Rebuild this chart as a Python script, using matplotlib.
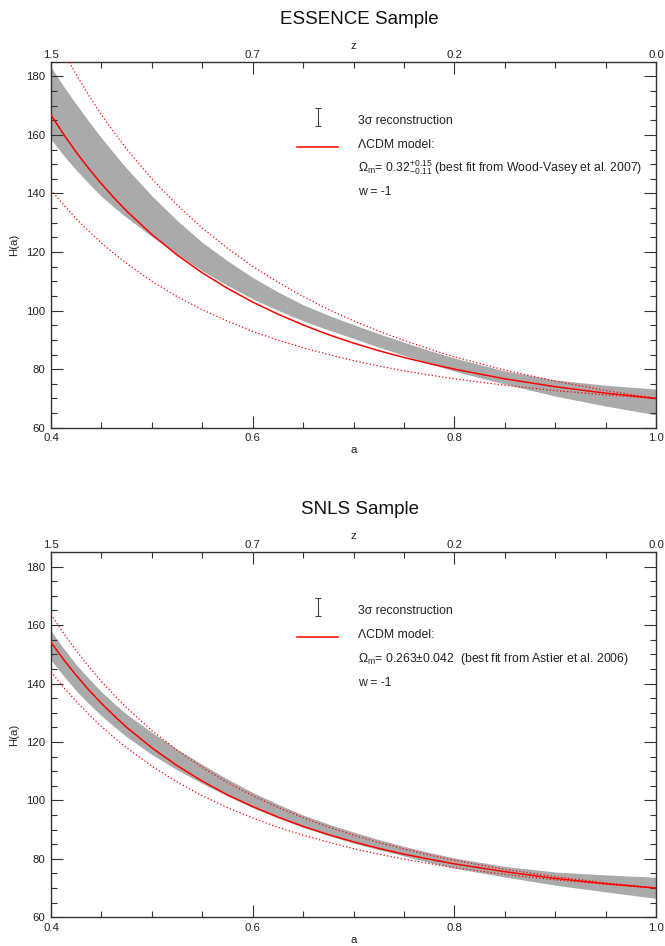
import matplotlib
matplotlib.use("Agg")
import matplotlib.pyplot as plt
from matplotlib.ticker import MultipleLocator

plt.rcParams["font.family"] = ["Liberation Sans", "DejaVu Sans"]
plt.rcParams["mathtext.fontset"] = "custom"
plt.rcParams["mathtext.rm"] = "Liberation Sans"
plt.rcParams["mathtext.it"] = "Liberation Sans:italic"
plt.rcParams["mathtext.bf"] = "Liberation Sans:bold"

# skala a (dolna os) i odpowiadajace z (gorna os)
a_vals = [0.40, 0.4125, 0.425, 0.4375, 0.45, 0.4625, 0.475, 0.50, 0.525,
          0.55, 0.575, 0.60, 0.625, 0.65, 0.675, 0.70, 0.725, 0.75, 0.775,
          0.80, 0.85, 0.90, 0.95, 1.00]
a_major = [0.4, 0.6, 0.8, 1.0]
a_labels = ["0.4", "0.6", "0.8", "1.0"]
z_labels = ["1.5", "0.7", "0.2", "0.0"]

# ESSENCE: pasmo 3 sigma + model LCDM (Om = 0.32 +0.15 -0.11)
ess_hi = [183.2, 176.6, 170.5, 164.6, 159.0, 153.7, 148.6, 139.2, 130.8,
          123.3, 117.0, 111.3, 106.4, 102.0, 98.4, 95.2, 92.1, 89.2, 86.4,
          83.8, 79.4, 76.3, 74.5, 73.2]
ess_lo = [158.5, 153.0, 148.0, 143.4, 139.0, 135.3, 131.8, 125.3, 119.3,
          113.6, 108.6, 104.0, 100.1, 96.5, 93.4, 90.5, 87.5, 84.7, 81.9,
          79.3, 74.9, 70.8, 67.4, 64.4]
ess_mod = [166.8, 160.2, 154.1, 148.5, 143.3, 138.5, 134.0, 126.0, 119.0,
           112.9, 107.6, 102.9, 98.8, 95.1, 91.8, 88.9, 86.3, 84.0, 81.9,
           80.0, 76.7, 74.0, 71.8, 70.0]
ess_mod_hi = [196.4, 188.2, 180.6, 173.5, 166.9, 160.9, 155.2, 145.0, 136.1,
              128.2, 121.3, 115.1, 109.7, 104.8, 100.4, 96.5, 93.0, 89.8, 86.9,
              84.2, 79.7, 75.9, 72.7, 70.0]
ess_mod_lo = [141.2, 136.1, 131.4, 127.1, 123.1, 119.5, 116.1, 110.0, 104.8,
              100.3, 96.4, 92.9, 89.9, 87.3, 85.0, 82.9, 81.1, 79.4, 78.0,
              76.7, 74.5, 72.7, 71.2, 70.0]

# SNLS: pasmo 3 sigma + model LCDM (Om = 0.263 +- 0.042)
snls_hi = [158.0, 152.0, 146.5, 141.7, 137.2, 133.2, 129.5, 123.3, 117.5,
           112.3, 107.3, 102.7, 98.7, 95.0, 91.9, 89.2, 86.6, 84.3, 82.2,
           80.3, 77.4, 75.5, 74.5, 73.7]
snls_lo = [148.0, 142.6, 137.5, 133.1, 129.0, 125.3, 121.8, 115.7, 110.5,
           105.8, 101.5, 97.5, 94.0, 90.8, 88.0, 85.4, 83.1, 81.0, 78.8,
           76.8, 73.8, 71.0, 68.7, 66.5]
snls_mod = [154.1, 148.2, 142.8, 137.8, 133.2, 129.0, 125.0, 118.0, 111.9,
            106.6, 101.9, 97.9, 94.3, 91.1, 88.3, 85.8, 83.6, 81.6, 79.9,
            78.3, 75.6, 73.3, 71.5, 70.0]
snls_mod_hi = [163.6, 157.2, 151.2, 145.8, 140.7, 136.1, 131.7, 123.9, 117.2,
               111.3, 106.1, 101.6, 97.6, 94.1, 90.9, 88.1, 85.6, 83.4, 81.3,
               79.5, 76.4, 73.9, 71.8, 70.0]
snls_mod_lo = [144.0, 138.7, 133.9, 129.4, 125.3, 121.5, 118.0, 111.7, 106.3,
               101.6, 97.5, 94.0, 90.8, 88.1, 85.7, 83.5, 81.6, 79.9, 78.4,
               77.0, 74.7, 72.8, 71.3, 70.0]

ciemny = "#333333"


def rysujPanel(ax, tytul, hi, lo, model, model_hi, model_lo, opis_omega):
    ax.fill_between(a_vals, lo, hi, color="#aaaaaa", lw=0, zorder=1)
    ax.plot(a_vals, model, color="red", lw=1.1, zorder=3)
    for krzywa in (model_hi, model_lo):
        ax.plot(a_vals, krzywa, color="red", lw=0.9, ls=(0, (1, 1.8)), zorder=3)

    ax.set_xlim(0.4, 1.0)
    ax.set_ylim(60, 185)
    ax.set_xticks(a_major)
    ax.set_xticklabels(a_labels)
    ax.xaxis.set_minor_locator(MultipleLocator(0.05))
    ax.set_yticks(range(60, 181, 20))
    ax.yaxis.set_minor_locator(MultipleLocator(5))
    ax.tick_params(which="both", direction="in", right=True, colors=ciemny,
                   labelcolor="#222222", labelsize=8.2, width=0.8)
    ax.tick_params(axis="x", which="major", length=8.5, pad=4)
    ax.tick_params(axis="y", which="major", length=8.5, pad=4.3)
    ax.tick_params(which="minor", length=4)
    for s in ax.spines.values():
        s.set_color(ciemny)
        s.set_linewidth(1.0)

    ax.set_xlabel("a", fontsize=8.2, color="#222222")
    ax.xaxis.set_label_coords(0.5, -0.0486)
    ax.set_ylabel("H(a)", fontsize=8.2, color="#222222")
    ax.yaxis.set_label_coords(-0.053, 0.5)

    # gorna os z przesuniecia ku czerwieni
    ax2 = ax.twiny()
    ax2.set_xlim(0.4, 1.0)
    ax2.set_xticks(a_major)
    ax2.set_xticklabels(z_labels)
    ax2.xaxis.set_minor_locator(MultipleLocator(0.05))
    ax2.tick_params(which="both", direction="in", colors=ciemny,
                    labelcolor="#222222", labelsize=8.2, width=0.8, pad=1.5)
    ax2.tick_params(which="major", length=8.5)
    ax2.tick_params(which="minor", length=4)
    ax2.set_xlabel("z", fontsize=8.2, color="#222222")
    ax2.xaxis.set_label_coords(0.5, 1.0358)
    for s in ax2.spines.values():
        s.set_visible(False)

    ax.text(0.51, 1.1038, tytul, transform=ax.transAxes, ha="center",
            va="baseline", fontsize=13.5, color="#111111")

    # legenda rysowana recznie
    ax.errorbar([0.441], [0.849], yerr=[0.025], fmt="none", ecolor="#444444",
                elinewidth=0.8, capsize=2.5, capthick=0.8,
                transform=ax.transAxes, zorder=4)
    ax.plot([0.407, 0.474], [0.767, 0.767], color="red", lw=1.1,
            transform=ax.transAxes, zorder=4)
    teksty = ["3σ reconstruction", "ΛCDM model:", opis_omega, "w = -1"]
    for i, t in enumerate(teksty):
        ax.text(0.507, 0.831 - i * 0.0655, t, transform=ax.transAxes,
                ha="left", va="baseline", fontsize=8.8, color="#222222")


fig = plt.figure(figsize=(6.65, 9.46), dpi=100)
ax_gora = fig.add_axes([51 / 665, 518.3 / 946, 605 / 665, 366 / 946])
ax_dol = fig.add_axes([51 / 665, 28.7 / 946, 605 / 665, 365.3 / 946])

rysujPanel(ax_gora, "ESSENCE Sample", ess_hi, ess_lo, ess_mod, ess_mod_hi,
           ess_mod_lo,
           r"$\mathregular{\Omega_m}$= 0.32$\mathregular{^{+0.15}_{-0.11}}$ (best fit from Wood-Vasey et al. 2007)")
rysujPanel(ax_dol, "SNLS Sample", snls_hi, snls_lo, snls_mod, snls_mod_hi,
           snls_mod_lo,
           r"$\mathregular{\Omega_m}$= 0.263±0.042  (best fit from Astier et al. 2006)")

fig.savefig("out.png", dpi=100)
